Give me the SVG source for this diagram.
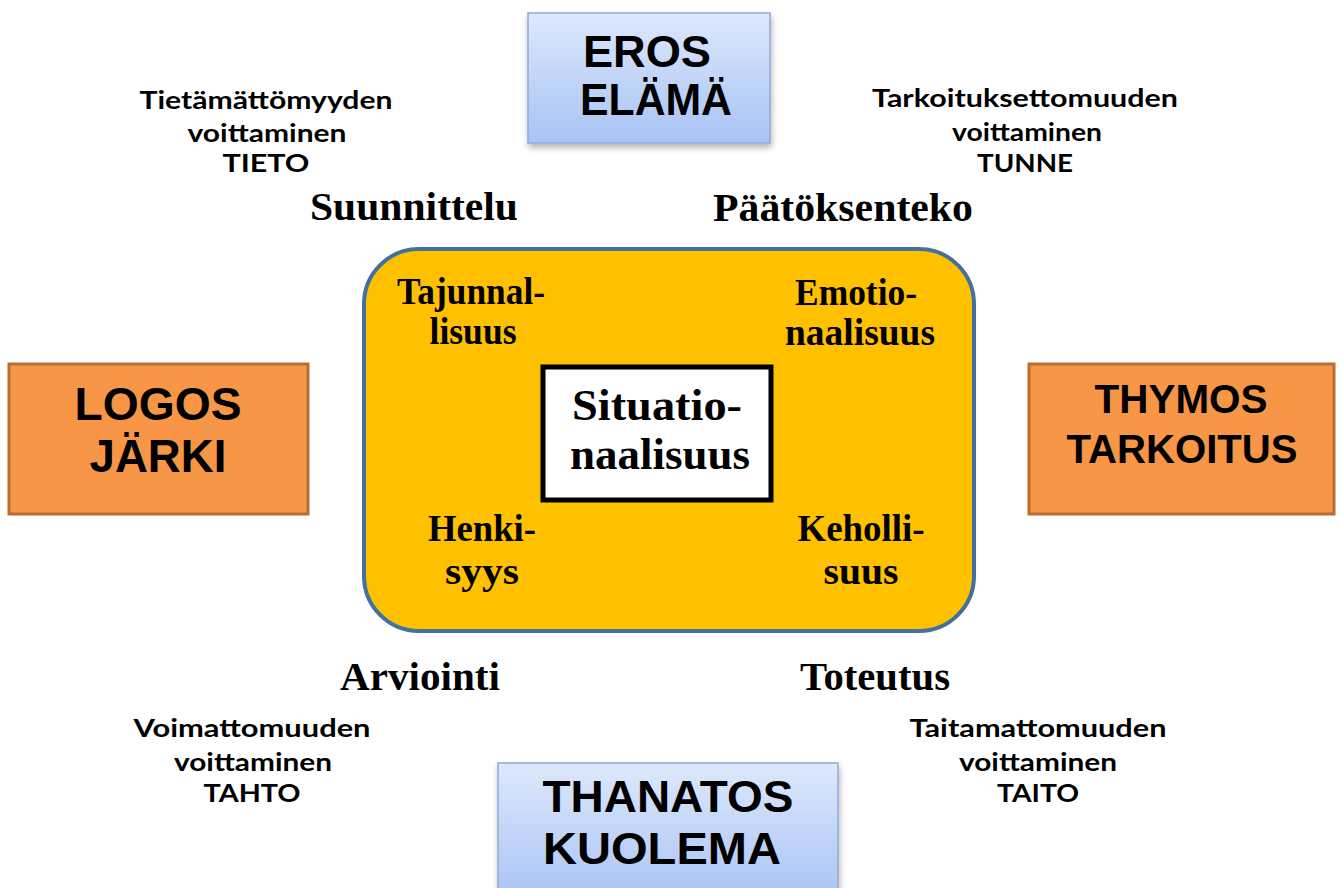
<svg xmlns="http://www.w3.org/2000/svg" width="1341" height="888" viewBox="0 0 1341 888">
<defs>
<linearGradient id="blueGrad" x1="0" y1="0" x2="0" y2="1">
<stop offset="0" stop-color="#dde8fc"/>
<stop offset="1" stop-color="#a8c3f4"/>
</linearGradient>
<filter id="shadow" x="-10%" y="-10%" width="130%" height="140%">
<feGaussianBlur in="SourceAlpha" stdDeviation="3"/>
<feOffset dx="1" dy="4" result="b"/>
<feComponentTransfer><feFuncA type="linear" slope="0.3"/></feComponentTransfer>
<feMerge><feMergeNode/><feMergeNode in="SourceGraphic"/></feMerge>
</filter>
</defs>
<style>
.blue{fill:url(#blueGrad);stroke:#8eaad8;stroke-width:1.5}
.orange{fill:#f79646;stroke:#b86e32;stroke-width:3}
.sans{font-family:"Liberation Sans",Arial,sans-serif;font-weight:bold;fill:#000;text-anchor:middle}
.cal{font-family:Lato,"Liberation Sans",sans-serif;font-weight:bold;font-size:24px;fill:#000;text-anchor:middle}
.serif{font-family:"Liberation Serif","Times New Roman",serif;font-weight:bold;fill:#000;text-anchor:middle}
</style>
<rect width="1341" height="888" fill="#ffffff"/>

<g id="eros">
<rect class="blue" x="528" y="13" width="242" height="130" filter="url(#shadow)"/>
<text class="sans" font-size="45" x="647" y="67" textLength="128" lengthAdjust="spacingAndGlyphs">EROS</text>
<text class="sans" font-size="45" x="656" y="115" textLength="152" lengthAdjust="spacingAndGlyphs">ELÄMÄ</text>
</g>

<g id="thanatos">
<rect class="blue" x="498" y="763" width="340" height="140" filter="url(#shadow)"/>
<text class="sans" font-size="45" x="668" y="812" textLength="251" lengthAdjust="spacingAndGlyphs">THANATOS</text>
<text class="sans" font-size="45" x="662" y="864" textLength="238" lengthAdjust="spacingAndGlyphs">KUOLEMA</text>
</g>

<g id="logos">
<rect class="orange" x="9" y="364" width="299" height="150"/>
<text class="sans" font-size="46" x="158" y="420" textLength="167" lengthAdjust="spacingAndGlyphs">LOGOS</text>
<text class="sans" font-size="46" x="158" y="472" textLength="137" lengthAdjust="spacingAndGlyphs">JÄRKI</text>
</g>

<g id="thymos">
<rect class="orange" x="1029" y="364" width="305" height="150"/>
<text class="sans" font-size="40" x="1181" y="413" textLength="173" lengthAdjust="spacingAndGlyphs">THYMOS</text>
<text class="sans" font-size="40" x="1182" y="463" textLength="231" lengthAdjust="spacingAndGlyphs">TARKOITUS</text>
</g>

<g id="tieto">
<text class="cal" x="266" y="109" textLength="253" lengthAdjust="spacingAndGlyphs">Tietämättömyyden</text>
<text class="cal" x="267" y="142" textLength="159" lengthAdjust="spacingAndGlyphs">voittaminen</text>
<text class="cal" x="266" y="172" textLength="87" lengthAdjust="spacingAndGlyphs">TIETO</text>
</g>

<g id="tunne">
<text class="cal" x="1025" y="107" textLength="306" lengthAdjust="spacingAndGlyphs">Tarkoituksettomuuden</text>
<text class="cal" x="1027" y="141" textLength="150" lengthAdjust="spacingAndGlyphs">voittaminen</text>
<text class="cal" x="1025" y="172" textLength="96" lengthAdjust="spacingAndGlyphs">TUNNE</text>
</g>

<g id="tahto">
<text class="cal" x="252" y="737" textLength="237" lengthAdjust="spacingAndGlyphs">Voimattomuuden</text>
<text class="cal" x="253" y="771" textLength="158" lengthAdjust="spacingAndGlyphs">voittaminen</text>
<text class="cal" x="252" y="802" textLength="97" lengthAdjust="spacingAndGlyphs">TAHTO</text>
</g>

<g id="taito">
<text class="cal" x="1038" y="737" textLength="257" lengthAdjust="spacingAndGlyphs">Taitamattomuuden</text>
<text class="cal" x="1038" y="771" textLength="158" lengthAdjust="spacingAndGlyphs">voittaminen</text>
<text class="cal" x="1038" y="802" textLength="82" lengthAdjust="spacingAndGlyphs">TAITO</text>
</g>

<g id="phases">
<text class="serif" font-size="40" x="414" y="220" textLength="208" lengthAdjust="spacingAndGlyphs">Suunnittelu</text>
<text class="serif" font-size="40" x="843" y="221" textLength="260" lengthAdjust="spacingAndGlyphs">Päätöksenteko</text>
<text class="serif" font-size="40" x="420" y="690" textLength="160" lengthAdjust="spacingAndGlyphs">Arviointi</text>
<text class="serif" font-size="40" x="875" y="690" textLength="150" lengthAdjust="spacingAndGlyphs">Toteutus</text>
</g>

<g id="center">
<rect x="364" y="249" width="610" height="382" rx="55" ry="55" fill="#ffc000" stroke="#41719c" stroke-width="4"/>
<text class="serif" font-size="38" x="471" y="304" textLength="148" lengthAdjust="spacingAndGlyphs">Tajunnal-</text>
<text class="serif" font-size="38" x="473" y="344" textLength="87" lengthAdjust="spacingAndGlyphs">lisuus</text>
<text class="serif" font-size="38" x="856" y="305" textLength="122" lengthAdjust="spacingAndGlyphs">Emotio-</text>
<text class="serif" font-size="38" x="860" y="345" textLength="150" lengthAdjust="spacingAndGlyphs">naalisuus</text>
<text class="serif" font-size="38" x="482" y="541" textLength="108" lengthAdjust="spacingAndGlyphs">Henki-</text>
<text class="serif" font-size="38" x="482" y="584" textLength="74" lengthAdjust="spacingAndGlyphs">syys</text>
<text class="serif" font-size="38" x="861" y="541" textLength="127" lengthAdjust="spacingAndGlyphs">Keholli-</text>
<text class="serif" font-size="38" x="861" y="584" textLength="75" lengthAdjust="spacingAndGlyphs">suus</text>
</g>

<g id="situationaalisuus">
<rect x="543" y="367" width="228" height="133" fill="#ffffff" stroke="#000000" stroke-width="5"/>
<text class="serif" font-size="45" x="657" y="420" textLength="170" lengthAdjust="spacingAndGlyphs">Situatio-</text>
<text class="serif" font-size="45" x="660" y="469" textLength="180" lengthAdjust="spacingAndGlyphs">naalisuus</text>
</g>
</svg>
